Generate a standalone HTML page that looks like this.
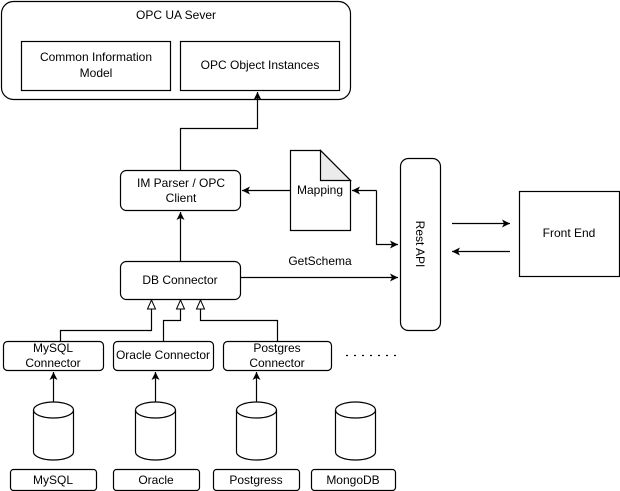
<!DOCTYPE html>
<html><head><style>body{margin:0;background:#fff}svg{display:block}text{font-family:"Liberation Sans",sans-serif;font-size:12px;fill:#000}</style></head><body>
<svg width="620" height="491" viewBox="0 0 620 491">
<defs>
<marker id="a" markerWidth="10" markerHeight="10" refX="9" refY="5" orient="auto" markerUnits="userSpaceOnUse"><path d="M1,1 L9,5 L1,9 L3,5 Z" fill="#000"/></marker>
<marker id="h" markerWidth="12" markerHeight="12" refX="10" refY="5" orient="auto" markerUnits="userSpaceOnUse"><path d="M1,1 L10,5 L1,9 Z" fill="#fff" stroke="#000"/></marker>
</defs>
<g fill="#fff" stroke="#000" stroke-width="1.2">
<rect x="1.5" y="1.5" width="349" height="98" rx="12"/>
<rect x="21.5" y="41.5" width="149" height="49"/>
<rect x="180.5" y="41.5" width="159" height="49"/>
<rect x="120.5" y="170.5" width="120" height="40" rx="6"/>
<path d="M290.5,150.5 H320.5 L350.5,180.5 V230.5 H290.5 Z"/>
<path d="M320.5,150.5 V180.5 H350.5 Z" fill="#ebebeb"/>
<rect x="400.5" y="158.5" width="40" height="172" rx="8"/>
<rect x="519.5" y="191.5" width="100" height="85"/>
<rect x="120.5" y="261.5" width="120" height="38" rx="6"/>
<rect x="3.5" y="341.5" width="100" height="29" rx="4"/>
<rect x="113.5" y="341.5" width="100" height="29" rx="4"/>
<rect x="223.5" y="341.5" width="108" height="29" rx="4"/>
<rect x="10.5" y="469.5" width="86" height="21" rx="3"/>
<rect x="113.5" y="469.5" width="86" height="21" rx="3"/>
<rect x="213.5" y="469.5" width="86" height="21" rx="3"/>
<rect x="311.5" y="469.5" width="84" height="21" rx="3"/>
</g>
<g fill="#fff" stroke="#000" stroke-width="1.2">
<path d="M33.5,410 A20,8 0 0 1 73.5,410 V452 A20,8 0 0 1 33.5,452 Z"/><path d="M33.5,410 A20,8 0 0 0 73.5,410" fill="none"/>
<path d="M135.5,410 A20,8 0 0 1 175.5,410 V452 A20,8 0 0 1 135.5,452 Z"/><path d="M135.5,410 A20,8 0 0 0 175.5,410" fill="none"/>
<path d="M236.5,410 A20,8 0 0 1 276.5,410 V452 A20,8 0 0 1 236.5,452 Z"/><path d="M236.5,410 A20,8 0 0 0 276.5,410" fill="none"/>
<path d="M335.5,410 A20,8 0 0 1 375.5,410 V452 A20,8 0 0 1 335.5,452 Z"/><path d="M335.5,410 A20,8 0 0 0 375.5,410" fill="none"/>
</g>
<g fill="none" stroke="#000" stroke-width="1.2">
<path d="M180.5,170 V128.5 H257.5 V92" marker-end="url(#a)"/>
<path d="M290,190.5 H242" marker-end="url(#a)"/>
<path d="M376.5,190.5 H352" marker-end="url(#a)"/>
<path d="M376.5,190.5 V244.5 H398" marker-end="url(#a)"/>
<path d="M452,223.5 H510" marker-end="url(#a)"/>
<path d="M510,251.5 H452" marker-end="url(#a)"/>
<path d="M180.5,261 V212" marker-end="url(#a)"/>
<path d="M240,277.5 H398" marker-end="url(#a)"/>
<path d="M60.5,341 V330.5 H151.5 V300" marker-end="url(#h)"/>
<path d="M163.5,341 V320.5 H180.5 V300" marker-end="url(#h)"/>
<path d="M277.5,341 V320.5 H200.5 V300" marker-end="url(#h)"/>
<path d="M53.5,402 V372" marker-end="url(#a)"/>
<path d="M155.5,402 V372" marker-end="url(#a)"/>
<path d="M256.5,402 V372" marker-end="url(#a)"/>
<path d="M346,355.5 H396" stroke-dasharray="2,6"/>
</g>
<g text-anchor="middle">
<text x="176" y="19">OPC UA Sever</text>
<text x="96" y="61">Common Information</text><text x="96" y="77">Model</text>
<text x="260" y="69">OPC Object Instances</text>
<text x="181" y="187">IM Parser / OPC</text><text x="181" y="202">Client</text>
<text x="320" y="194">Mapping</text>
<text x="320" y="265">GetSchema</text>
<text x="569" y="237">Front End</text>
<text x="180" y="284">DB Connector</text>
<text x="53" y="352">MySQL</text><text x="53" y="367">Connector</text>
<text x="163" y="359">Oracle Connector</text>
<text x="277" y="352">Postgres</text><text x="277" y="367">Connector</text>
<text x="53" y="484">MySQL</text>
<text x="156" y="484">Oracle</text>
<text x="256" y="484">Postgress</text>
<text x="353" y="484">MongoDB</text>
<text transform="translate(416,244) rotate(90)">Rest API</text>
</g>
</svg>
</body></html>
